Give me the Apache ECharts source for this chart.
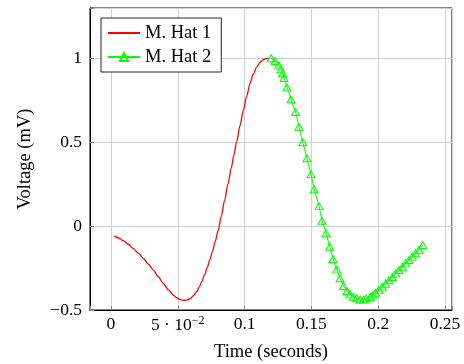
<!DOCTYPE html>
<html>
<head>
<meta charset="utf-8">
<script src="https://cdn.jsdelivr.net/npm/echarts@6/dist/echarts.min.js"></script>
<style>
html,body{margin:0;padding:0;background:#fff;}
#c{width:464px;height:364px;}
</style>
</head>
<body>
<div id="c"></div>
<script>
// ---- data ----
var hat1X = [0.0025, 0.0060, 0.0092, 0.0130, 0.0167, 0.0205, 0.0242, 0.0280, 0.0317, 0.0354, 0.0391, 0.0430, 0.0466, 0.0495, 0.0516, 0.0535, 0.0554, 0.0572, 0.0591, 0.0615, 0.0641, 0.0660, 0.0680, 0.0700, 0.0720, 0.0740, 0.0760, 0.0780, 0.0803, 0.0825, 0.0850, 0.0875, 0.0900, 0.0920, 0.0940, 0.0965, 0.0990, 0.1015, 0.1040, 0.1065, 0.1090, 0.1115, 0.1140, 0.1160, 0.1185];
var hat1Y = [-0.058, -0.071, -0.087, -0.108, -0.133, -0.161, -0.192, -0.226, -0.262, -0.301, -0.341, -0.380, -0.411, -0.428, -0.437, -0.441, -0.443, -0.440, -0.433, -0.416, -0.391, -0.364, -0.330, -0.290, -0.248, -0.200, -0.150, -0.092, -0.024, 0.060, 0.152, 0.250, 0.347, 0.425, 0.502, 0.598, 0.690, 0.773, 0.849, 0.906, 0.948, 0.976, 0.992, 0.998, 1.000];

var hat2X = [0.1198, 0.1228, 0.1257, 0.1272, 0.1285, 0.1295, 0.1317, 0.1347, 0.1382, 0.1407, 0.1435, 0.1467, 0.1497, 0.1520, 0.1557, 0.1580, 0.1610, 0.1637, 0.1662, 0.1690, 0.1714, 0.1740, 0.1766, 0.1790, 0.1814, 0.1840, 0.1864, 0.1890, 0.1910, 0.1940, 0.1960, 0.1980, 0.2005, 0.2030, 0.2055, 0.2080, 0.2105, 0.2130, 0.2155, 0.2180, 0.2205, 0.2230, 0.2255, 0.2280, 0.2305, 0.2333];
var hat2Y = [1.000, 0.984, 0.958, 0.935, 0.911, 0.883, 0.827, 0.756, 0.680, 0.592, 0.500, 0.405, 0.310, 0.220, 0.119, 0.032, -0.042, -0.123, -0.196, -0.258, -0.311, -0.357, -0.387, -0.407, -0.421, -0.430, -0.437, -0.437, -0.432, -0.422, -0.410, -0.397, -0.380, -0.362, -0.343, -0.323, -0.303, -0.283, -0.262, -0.242, -0.222, -0.202, -0.182, -0.162, -0.141, -0.113];

var seriesNames = ['M. Hat 1', 'M. Hat 2'];
var xTicks = [0, 0.05, 0.1, 0.15, 0.2, 0.25];
var xTickLabels = ['0', '{m|5 · 10}{s|−2}', '0.1', '0.15', '0.2', '0.25'];
var yTicks = [-0.5, 0, 0.5, 1];
var yTickLabels = ['−0.5', '0', '0.5', '1'];
var xTitle = 'Time (seconds)';
var yTitle = 'Voltage (mV)';

// ---- build ----
function pairs(xs, ys){ return xs.map(function(x,i){ return [x, ys[i]]; }); }
function lookup(ticks, labels){
  return function(v){
    for (var i=0;i<ticks.length;i++){ if (Math.abs(v-ticks[i])<1e-6) return labels[i]; }
    return '';
  };
}
var FONT = 'Liberation Serif';
var chart = echarts.init(document.getElementById('c'), null, {renderer:'canvas'});
chart.setOption({
  animation:false,
  backgroundColor:'#fff',
  textStyle:{fontFamily:FONT},
  grid:{left:90, top:8, right:12, bottom:54, show:true, borderColor:'#000', borderWidth:1, backgroundColor:'transparent', containLabel:false, outerBoundsMode:'none'},
  legend:{
    orient:'vertical', left:101, top:18,
    itemWidth:32, itemHeight:10, itemGap:4,
    padding:[5,10,5,6],
    borderColor:'#222', borderWidth:1, borderRadius:0, backgroundColor:'#fff',
    textStyle:{fontFamily:FONT, fontSize:18.5, color:'#000', lineHeight:20},
    data:[
      {name:seriesNames[0], itemStyle:{opacity:0}},
      {name:seriesNames[1]}
    ]
  },
  xAxis:{
    type:'value', min:-0.0157, max:0.2552, minInterval:0.05, maxInterval:0.05,
    name:xTitle, nameLocation:'middle', nameGap:33,
    nameTextStyle:{fontFamily:FONT, fontSize:18.5, color:'#000'},
    axisLine:{show:true, onZero:false, lineStyle:{color:'#000', width:1}},
    axisTick:{show:true, inside:true, length:4, lineStyle:{color:'#888'}},
    axisLabel:{
      show:true, margin:5, color:'#000', fontFamily:FONT, fontSize:17.5,
      showMinLabel:true, showMaxLabel:true,
      formatter:lookup(xTicks, xTickLabels),
      rich:{
        m:{fontFamily:FONT, fontSize:17.5, color:'#000', lineHeight:20},
        s:{fontFamily:FONT, fontSize:12, color:'#000', lineHeight:12, verticalAlign:'top'}
      }
    },
    splitLine:{show:true, lineStyle:{color:'#d0d0d0', width:1}}
  },
  yAxis:{
    type:'value', min:-0.5, max:1.3, interval:0.5,
    name:yTitle, nameLocation:'middle', nameGap:55, nameRotate:90,
    nameTextStyle:{fontFamily:FONT, fontSize:18.5, color:'#000'},
    axisLine:{show:true, onZero:false, lineStyle:{color:'#000', width:1}},
    axisTick:{show:true, inside:true, length:4, lineStyle:{color:'#888'}},
    axisLabel:{show:true, margin:8, color:'#000', fontFamily:FONT, fontSize:17.5, formatter:lookup(yTicks, yTickLabels)},
    splitLine:{show:true, lineStyle:{color:'#d0d0d0', width:1}}
  },
  series:[
    {
      name:seriesNames[0], type:'line', data:pairs(hat1X, hat1Y),
      symbol:'none', showSymbol:false, smooth:0.3, smoothMonotone:'x',
      lineStyle:{color:'#ff0000', width:1.3},
      itemStyle:{color:'#ff0000'}, z:2
    },
    {
      name:seriesNames[1], type:'line', data:pairs(hat2X, hat2Y),
      symbol:'triangle', symbolSize:[8,7], showSymbol:true,
      lineStyle:{color:'#00ff00', width:1},
      itemStyle:{color:'rgba(0,0,0,0)', borderColor:'#00ff00', borderWidth:1}, z:3
    }
  ]
});
</script>
</body>
</html>
